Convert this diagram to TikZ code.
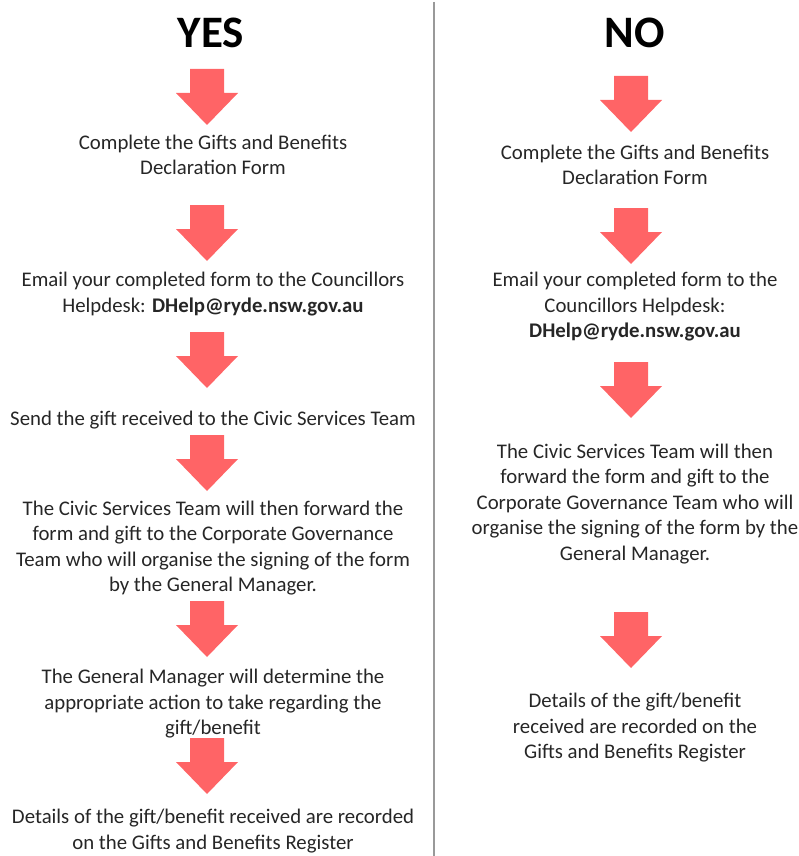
\documentclass[tikz,border=0pt]{standalone}
\usepackage{fontspec}
\setmainfont{Carlito}
\definecolor{arrowred}{HTML}{FF6466}
\definecolor{textgrey}{HTML}{262626}

\tikzset{
    pics/downarrow/.style={code={
        \fill[arrowred] (-17,-28) -- (17,-28) -- (17,-4) -- (31,-4) -- (0,28)
            -- (-31,-4) -- (-17,-4) -- cycle;
    }},
    steptext/.style={align=center, text=textgrey, font=\fontsize{20.8}{25.5}\selectfont},
    heading/.style={font=\fontsize{45}{50}\selectfont\bfseries}
}

\begin{document}
\begin{tikzpicture}[x=1pt,y=-1pt]
    \useasboundingbox (0,0) rectangle (798,856);

    % divider
    \draw[gray!80,line width=2pt] (434,2) -- (434,856);

    % YES column
    \node[heading] (yes) at (211,33) {YES};
    \pic (ya1) at (207,97) {downarrow};
    \node[steptext] (ys1) at (213,155) {Complete the Gifts and Benefits\\Declaration Form};
    \pic (ya2) at (207,233) {downarrow};
    \node[steptext] (ys2) at (213,294) {Email your completed form to the Councillors\\Helpdesk: \textbf{DHelp@ryde.nsw.gov.au}};
    \pic (ya3) at (207,360) {downarrow};
    \node[steptext] (ys3) at (213,420) {Send the gift received to the Civic Services Team};
    \pic (ya4) at (207,463) {downarrow};
    \node[steptext] (ys4) at (213,548) {The Civic Services Team will then forward the\\form and gift to the Corporate Governance\\Team who will organise the signing of the form\\by the General Manager.};
    \pic (ya5) at (207,629) {downarrow};
    \node[steptext] (ys5) at (213,704) {The General Manager will determine the\\appropriate action to take regarding the\\gift/benefit};
    \pic (ya6) at (207,766) {downarrow};
    \node[steptext] (ys6) at (213,831) {Details of the gift/benefit received are recorded\\on the Gifts and Benefits Register};

    % NO column
    \node[heading] (no) at (635,33) {NO};
    \pic (na1) at (631,104) {downarrow};
    \node[steptext] (ns1) at (635,165) {Complete the Gifts and Benefits\\Declaration Form};
    \pic (na2) at (631,236) {downarrow};
    \node[steptext] (ns2) at (635,307) {Email your completed form to the\\Councillors Helpdesk:\\\textbf{DHelp@ryde.nsw.gov.au}};
    \pic (na3) at (631,390) {downarrow};
    \node[steptext] (ns3) at (635,504) {The Civic Services Team will then\\forward the form and gift to the\\Corporate Governance Team who will\\organise the signing of the form by the\\General Manager.};
    \pic (na4) at (631,640) {downarrow};
    \node[steptext] (ns4) at (635,728) {Details of the gift/benefit\\received are recorded on the\\Gifts and Benefits Register};
\end{tikzpicture}
\end{document}
